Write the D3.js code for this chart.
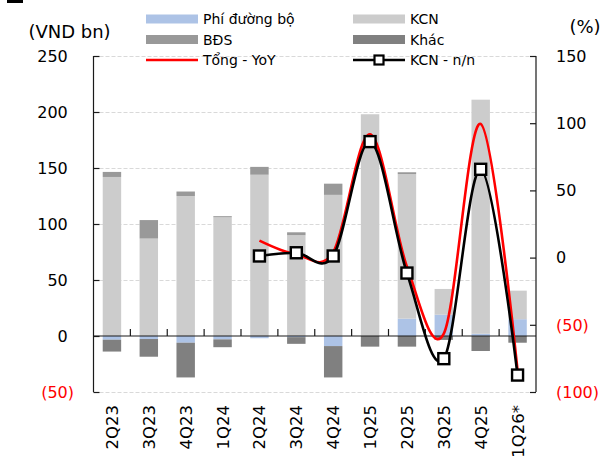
<!DOCTYPE html>
<html><head><meta charset="utf-8">
<script src="https://cdn.jsdelivr.net/npm/d3@7"></script>
<style>body{margin:0;background:#fff}svg{display:block}text{font-family:"DejaVu Sans",sans-serif}</style>
</head><body><svg id="c" width="614" height="461"></svg>
<script>
const categories = ["2Q23","3Q23","4Q23","1Q24","2Q24","3Q24","4Q24","1Q25","2Q25","3Q25","4Q25","1Q26*"];
const phiDuongBo = [-3.3, -2.7, -6, -3, -2, -1, -9, 0, 15.5, 19, 2, 15];
const kcn        = [142, 87, 125, 106, 144, 90, 126, 198, 129, 23, 209, 25.5];
const bds        = [4.5, 16.5, 4, 1, 7, 2.6, 10, 0, 1.7, 0, 0, 0];
const khac       = [-10.6, -15.8, -31, -7, 0, -6, -28, -9.5, -9.5, -3.5, -13.4, -6];
const tongYoY    = [null, null, null, null, 12.6, 2.4, 4, 91.7, -6.7, -56.5, 99.5, -84];
const kcnNN      = [null, null, null, null, 1.2, 3.6, 1.2, 86.3, -11.5, -75.2, 65.7, -87.4];
const leftTicks  = [250, 200, 150, 100, 50, 0, -50];
const rightTicks = [150, 100, 50, 0, -50, -100];
const seriesNames = ["Phí đường bộ", "KCN", "BĐS", "Khác"];
const colors = {"Phí đường bộ":"#adc3e6","KCN":"#cccccc","BĐS":"#999999","Khác":"#808080"};

const svg = d3.select("#c");
const L = 93.5, R = 536, T = 56, B = 392;
const x = d3.scaleBand().domain(categories).range([L, R]).paddingInner(0.5).paddingOuter(0.25);
const xc = d => x(d) + x.bandwidth()/2;
const y = d3.scaleLinear().domain([-50, 250]).range([B, T]);
const y2 = d3.scaleLinear().domain([-100, 150]).range([B, T]);

// top-left mark
svg.append("rect").attr("x",7).attr("y",0).attr("width",16).attr("height",3).attr("fill","#000");

// grid
svg.append("g").selectAll("line").data(leftTicks.filter(v=>v!==0)).join("line")
  .attr("x1",L).attr("x2",R).attr("y1",d=>Math.round(y(d))+0.5).attr("y2",d=>Math.round(y(d))+0.5)
  .attr("stroke","#d9d9d9").attr("stroke-dasharray","4,2");

// bars
const rows = categories.map((c,i)=>({cat:c,"Phí đường bộ":phiDuongBo[i],"KCN":kcn[i],"BĐS":bds[i],"Khác":khac[i]}));
const stack = d3.stack().keys(seriesNames).offset(d3.stackOffsetDiverging)(rows);
svg.append("g").selectAll("g").data(stack).join("g").attr("fill",d=>colors[d.key])
  .selectAll("rect").data(d=>d).join("rect")
  .attr("x",d=>x(d.data.cat)).attr("width",x.bandwidth())
  .attr("y",d=>y(Math.max(d[0],d[1]))).attr("height",d=>Math.abs(y(d[0])-y(d[1])));

// x axis line with ticks between categories
const axisG = svg.append("g").attr("stroke","#1a1a1a").attr("stroke-width",1.2);
axisG.append("line").attr("x1",L).attr("x2",R).attr("y1",y(0)).attr("y2",y(0));
const step = x.step();
axisG.selectAll("line.t").data(categories.slice(1)).join("line").attr("class","t")
  .attr("x1",d=>x(d)-step*0.25).attr("x2",d=>x(d)-step*0.25).attr("y1",y(0)-7).attr("y2",y(0));

// left axis
const la = d3.axisLeft(y).tickValues(leftTicks).tickSize(-6).tickPadding(0).tickFormat(()=>"");
svg.append("g").attr("transform",`translate(${L},0)`).call(la)
  .call(g=>{g.select(".domain").attr("stroke","#1a1a1a").attr("stroke-width",1.2).attr("d",`M0,${T}V${B}`);g.selectAll(".tick line").attr("stroke","#1a1a1a").attr("stroke-width",1.2);});
const ra = d3.axisRight(y2).tickValues(rightTicks).tickSize(-6).tickFormat(()=>"");
svg.append("g").attr("transform",`translate(${R},0)`).call(ra)
  .call(g=>{g.select(".domain").attr("stroke","#1a1a1a").attr("stroke-width",1.2).attr("d",`M0,${T}V${B}`);g.selectAll(".tick line").attr("stroke","#1a1a1a").attr("stroke-width",1.2);});

// left tick labels
const lt = svg.append("g").selectAll("text").data(leftTicks).join("text")
  .attr("x",74).attr("y",d=>y(d)).attr("dy","0.36em").attr("text-anchor","end")
  .attr("font-size",16).attr("fill",d=>d<0?"#ff0000":"#000");
lt.each(function(d){
  const t = d3.select(this);
  if(d<0){ t.text(`(${Math.abs(d)})`); }
  else { t.append("tspan").text(d); t.append("tspan").attr("fill-opacity",0).text(")"); }
});
// right tick labels
svg.append("g").selectAll("text").data(rightTicks).join("text")
  .attr("x",556).attr("y",d=>y2(d)).attr("dy","0.36em").attr("font-size",16)
  .attr("fill",d=>d<0?"#ff0000":"#000").text(d=>d<0?`(${Math.abs(d)})`:d);

// x labels
svg.append("g").selectAll("text").data(categories).join("text")
  .attr("transform",d=>`translate(${xc(d)},405) rotate(-90)`).attr("dy","0.36em")
  .attr("text-anchor","end").attr("font-size",16.5).text(d=>d);

// unit labels
svg.append("text").attr("x",69.5).attr("y",32).attr("dy","0.36em").attr("text-anchor","middle").attr("font-size",18).text("(VND bn)");
svg.append("text").attr("x",585).attr("y",27).attr("dy","0.36em").attr("text-anchor","middle").attr("font-size",18).text("(%)");

// lines
const curve = d3.curveCatmullRom.alpha(0);
const lineGen = vals => d3.line().defined(d=>d.v!=null).x(d=>xc(d.c)).y(d=>y2(d.v)).curve(curve)(categories.map((c,i)=>({c,v:vals[i]})));
svg.append("path").attr("d",lineGen(tongYoY)).attr("fill","none").attr("stroke","#ff0000").attr("stroke-width",2.6);
svg.append("path").attr("d",lineGen(kcnNN)).attr("fill","none").attr("stroke","#000").attr("stroke-width",2.6);
svg.append("g").selectAll("rect").data(categories.map((c,i)=>({c,v:kcnNN[i]})).filter(d=>d.v!=null)).join("rect")
  .attr("x",d=>xc(d.c)-5.5).attr("y",d=>y2(d.v)-5.5).attr("width",11).attr("height",11)
  .attr("fill","#fff").attr("stroke","#000").attr("stroke-width",2.4);

// legend
const leg = svg.append("g").attr("font-size",14);
const items = [
  {n:"Phí đường bộ",col:0,row:0,type:"box"},{n:"KCN",col:1,row:0,type:"box"},
  {n:"BĐS",col:0,row:1,type:"box"},{n:"Khác",col:1,row:1,type:"box"},
  {n:"Tổng - YoY",col:0,row:2,type:"red"},{n:"KCN - n/n",col:1,row:2,type:"black"}];
const colX=[146,353], rowY=[19,39.5,60];
items.forEach(it=>{
  const x0=colX[it.col], yy=rowY[it.row];
  if(it.type==="box") leg.append("rect").attr("x",x0).attr("y",yy-4.5).attr("width",52).attr("height",9).attr("fill",colors[it.n]);
  else if(it.type==="red") leg.append("line").attr("x1",x0).attr("x2",x0+52).attr("y1",yy).attr("y2",yy).attr("stroke","#ff0000").attr("stroke-width",2.6);
  else { leg.append("line").attr("x1",x0).attr("x2",x0+52).attr("y1",yy).attr("y2",yy).attr("stroke","#000").attr("stroke-width",2.6);
    leg.append("rect").attr("x",x0+26-4.5).attr("y",yy-4.5).attr("width",9).attr("height",9).attr("fill","#fff").attr("stroke","#000").attr("stroke-width",2.2); }
  leg.append("text").attr("x",x0+57).attr("y",yy).attr("dy","0.36em").text(it.n);
});
</script></body></html>
